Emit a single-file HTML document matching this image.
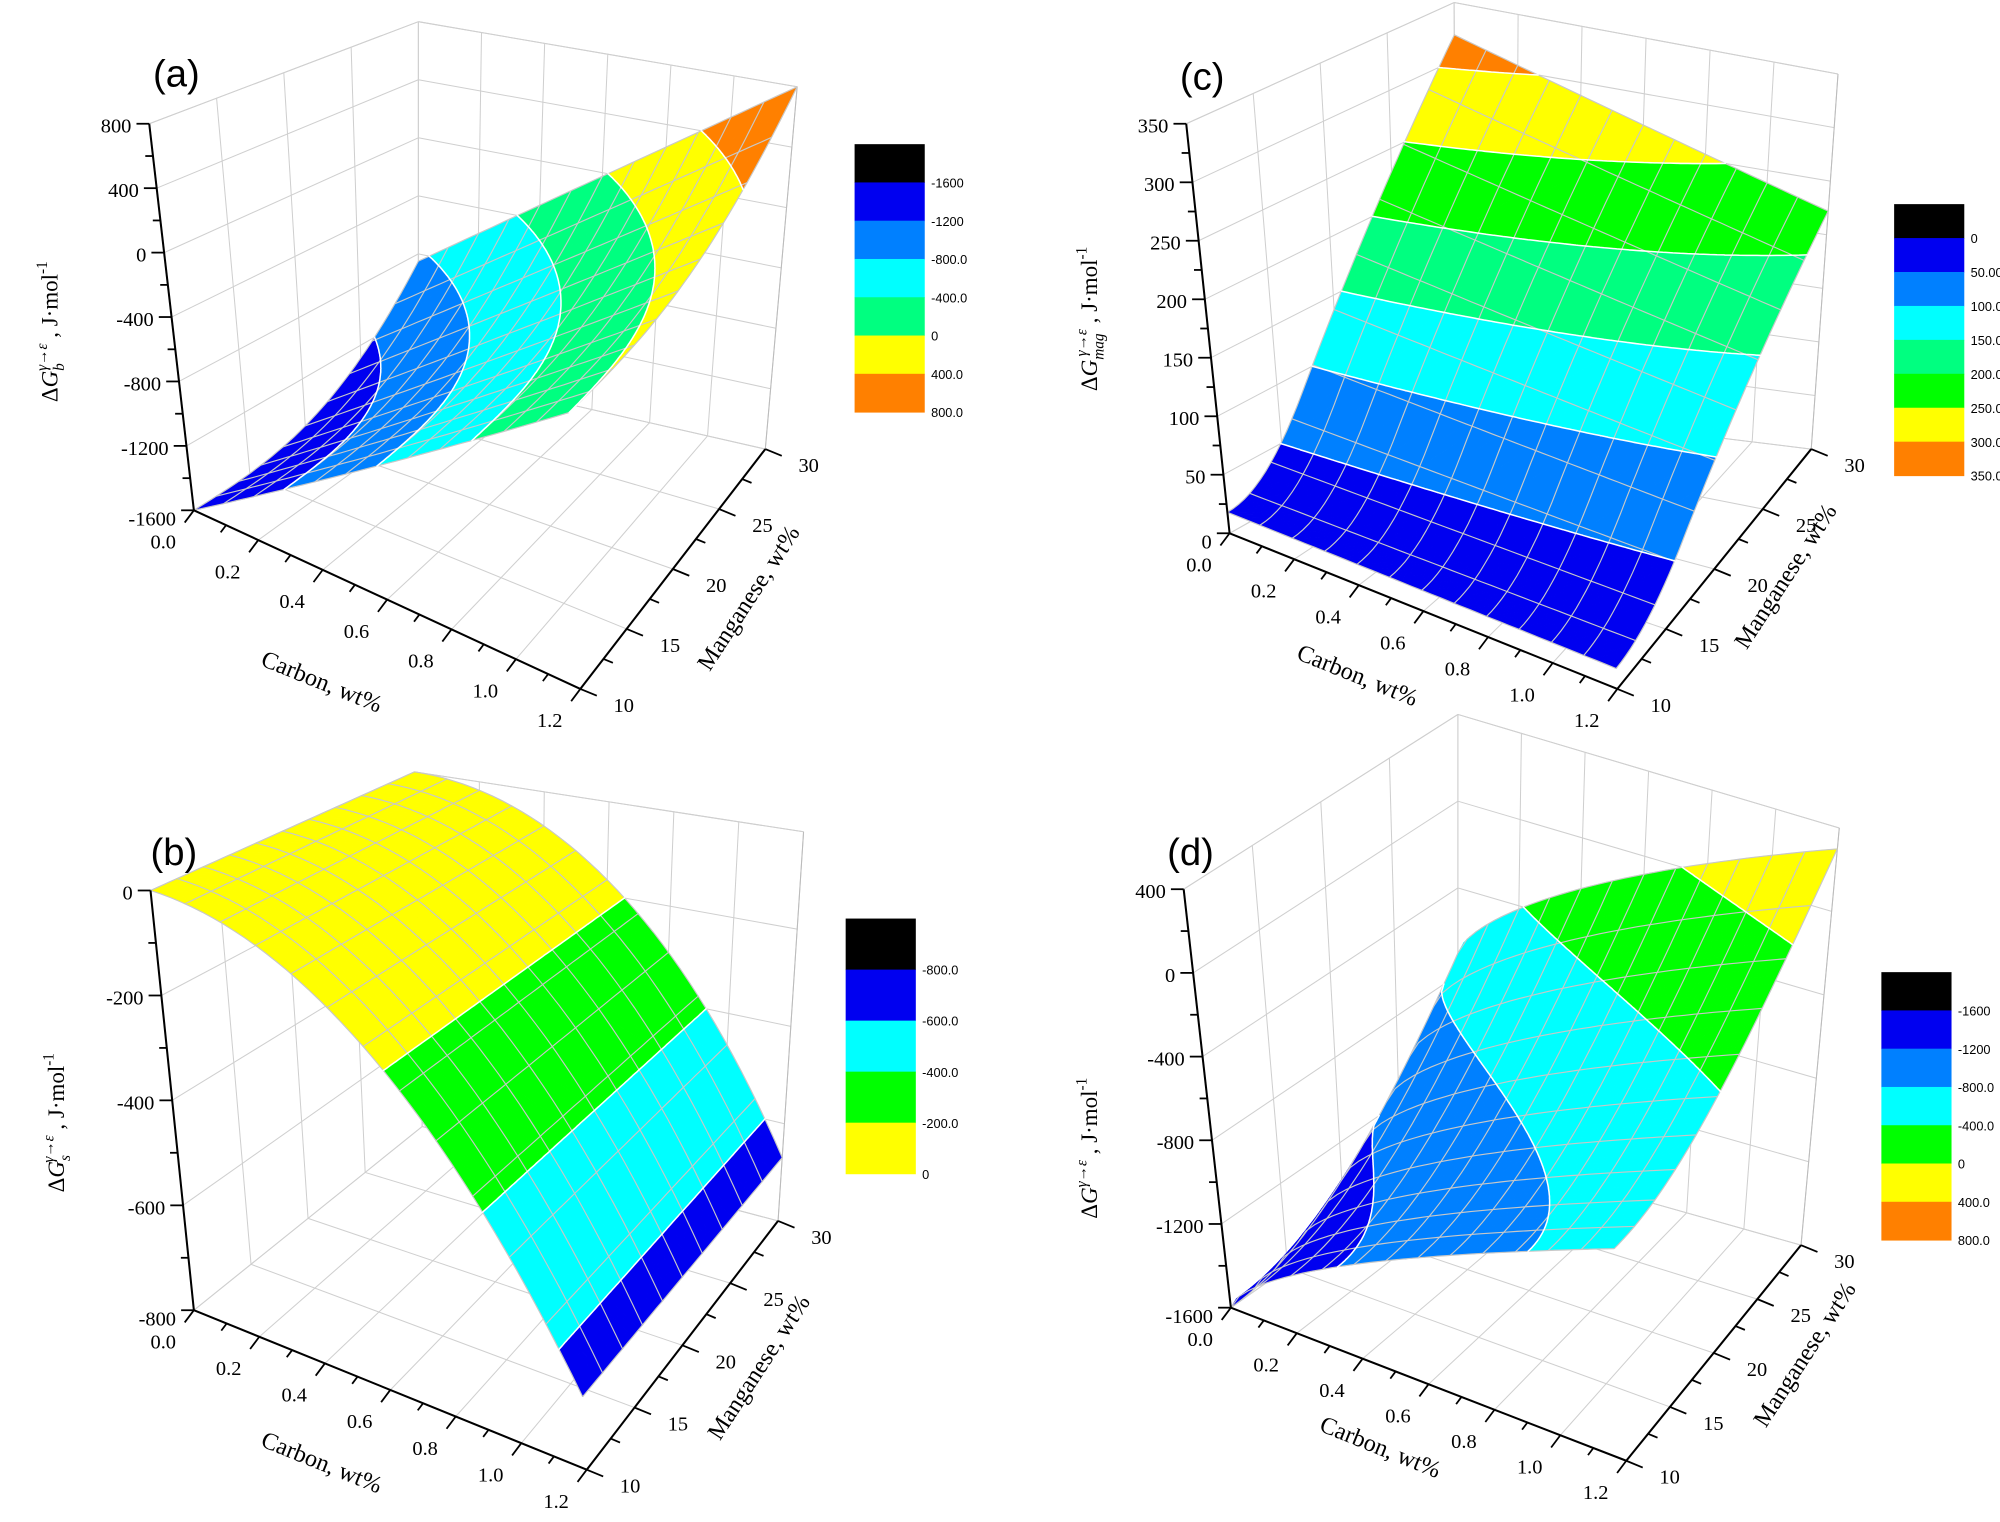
<!DOCTYPE html>
<html><head><meta charset="utf-8">
<style>
html,body{margin:0;padding:0;background:#fff;}
svg{display:block;}
text{font-family:"Liberation Serif",serif;}
.sans{font-family:"Liberation Sans",sans-serif;}
</style></head>
<body>
<svg id="s" xmlns="http://www.w3.org/2000/svg" width="2000" height="1522" viewBox="0 0 1568 1193" preserveAspectRatio="none">
<rect width="1568" height="1193" fill="#fff"/>
</svg>
<script>
const NS="http://www.w3.org/2000/svg";
const svg=document.getElementById('s');
function el(tag,attrs,parent,txt){const e=document.createElementNS(NS,tag);for(const k in attrs)e.setAttribute(k,attrs[k]);if(txt!==undefined)e.textContent=txt;(parent||svg).appendChild(e);return e;}
const BL='#0000f0',AZ='#0080ff',CY='#00ffff',SP='#00ff80',GR='#00ff00',YE='#ffff00',OR='#ff8000';
function sc(m){const a=0.35;return m>=a?(m-a/2)/(1-a/2):(m*m/(2*a))/(1-a/2);}
const panels=[
{ // a
 F:[[152,400],[455,540],[328,290],[600,352]],T:[[117,97],[442,215],[328,17],[625,68]],
 zr:[-1600,800],zt:[-1600,-1200,-800,-400,0,400,800],zminor:200,
 f:(c,m)=>-1600+750*m*m*m+c*(1600+50*m),
 th:[[-1200,BL],[-800,AZ],[-400,CY],[0,SP],[400,YE],[1e9,OR]],
 label:'(a)',lp:[120,68],sub:'b',
 cb:{x:670,y:113,w:55,h:30,cols:['#000',BL,AZ,CY,SP,YE,OR],labs:['-1600','-1200','-800.0','-400.0','0','400.0','800.0']},
 ct:[250,540],mt:[592,472],zt2:[45,260]
},
{ // b
 F:[[152,1027],[460,1152],[331,883],[610,957]],T:[[118,698],[440,800],[325,605],[630,652]],
 zr:[-800,0],zt:[-800,-600,-400,-200,0],zminor:100,
 f:(c,m)=>-670*c*c,
 th:[[-600,BL],[-400,CY],[-200,GR],[1e9,YE]],
 label:'(b)',lp:[118,678],sub:'s',
 cb:{x:663,y:720,w:55,h:40,cols:['#000',BL,CY,GR,YE],labs:['-800.0','-600.0','-400.0','-200.0','0']},
 ct:[250,1152],mt:[600,1075],zt2:[50,880]
},
{ // c
 F:[[964,418],[1268,540],[1142,318],[1420,352]],T:[[930,97],[1250,228],[1140,2],[1441,58]],
 zr:[0,350],zt:[0,50,100,150,200,250,300,350],zminor:25,
 f:(c,m)=>18+(304-100*c)*sc(m),
 th:[[50,BL],[100,AZ],[150,CY],[200,SP],[250,GR],[300,YE],[1e9,OR]],
 label:'(c)',lp:[925,70],sub:'mag',
 cb:{x:1485,y:160,w:55,h:26.6,cols:['#000',BL,AZ,CY,SP,GR,YE,OR],labs:['0','50.00','100.0','150.0','200.0','250.0','300.0','350.0']},
 ct:[1062,535],mt:[1405,455],zt2:[860,250]
},
{ // d
 F:[[965,1025],[1275,1145],[1143,900],[1412,976]],T:[[928,697],[1255,795],[1143,560],[1442,649]],
 zr:[-1600,400],zt:[-1600,-1200,-800,-400,0,400],zminor:200,
 f:(c,m)=>{const s=Math.pow(c,0.7);return -1600+950*s+900*m*m+50*s*m*m;},
 th:[[-1200,BL],[-800,AZ],[-400,CY],[0,GR],[400,YE],[1e9,OR]],
 label:'(d)',lp:[915,678],sub:'',
 cb:{x:1475,y:762,w:55,h:30,cols:['#000',BL,AZ,CY,GR,YE,OR],labs:['-1600','-1200','-800.0','-400.0','0','400.0','800.0']},
 ct:[1080,1140],mt:[1420,1065],zt2:[860,900]
}];
function bil(A,c,m,i){return A[0][i]*(1-c)*(1-m)+A[1][i]*c*(1-m)+A[2][i]*(1-c)*m+A[3][i]*c*m;}
function P(p,c,m,t){const fx=bil(p.F,c,m,0),fy=bil(p.F,c,m,1),tx=bil(p.T,c,m,0),ty=bil(p.T,c,m,1);return [fx+(tx-fx)*t,fy+(ty-fy)*t];}
function tn(p,v){return (v-p.zr[0])/(p.zr[1]-p.zr[0]);}
function line(a,b,st,w,g){el('line',{x1:a[0].toFixed(1),y1:a[1].toFixed(1),x2:b[0].toFixed(1),y2:b[1].toFixed(1),stroke:st,'stroke-width':w},g);}
function clip(poly,lv,keepAbove){const out=[];for(let i=0;i<poly.length;i++){const a=poly[i],b=poly[(i+1)%poly.length];const ia=keepAbove?a[2]>=lv:a[2]<lv,ib=keepAbove?b[2]>=lv:b[2]<lv;if(ia)out.push(a);if(ia!==ib){const t=(lv-a[2])/(b[2]-a[2]);out.push([a[0]+(b[0]-a[0])*t,a[1]+(b[1]-a[1])*t,lv]);}}return out;}
const ps=a=>a.map(v=>v[0].toFixed(1)+','+v[1].toFixed(1)).join(' ');
const GC='#cfcfcf';
panels.forEach(p=>{
 const g=el('g',{});
 const cts=[0,1/6,2/6,3/6,4/6,5/6,1], mts=[0,.25,.5,.75,1];
 p.zt.forEach(v=>{const t=tn(p,v);line(P(p,0,0,t),P(p,0,1,t),GC,0.8,g);line(P(p,0,1,t),P(p,1,1,t),GC,0.8,g);});
 line(P(p,0,0,1),P(p,0,1,1),GC,0.8,g);line(P(p,0,1,1),P(p,1,1,1),GC,0.8,g);
 cts.forEach(c=>{line(P(p,c,1,0),P(p,c,1,1),GC,0.8,g);line(P(p,c,0,0),P(p,c,1,0),GC,0.8,g);});
 mts.forEach(m=>{line(P(p,0,m,0),P(p,0,m,1),GC,0.8,g);line(P(p,0,m,0),P(p,1,m,0),GC,0.8,g);});
 line(P(p,1,1,0),P(p,1,1,1),'#bbb',0.8,g);
 const N=60,q=[];
 for(let i=0;i<N;i++)for(let j=0;j<N;j++){q.push([i/N,(i+1)/N,j/N,(j+1)/N,(2*j+1)/N/2-(2*i+1)/N/2]);}
 q.sort((a,b)=>b[4]-a[4]);
 const sg=el('g',{},g);
 const levels=[-1e12].concat(p.th.map(x=>x[0]));
 const V=(c,m)=>{const v=p.f(c,m);const a=P(p,c,m,tn(p,v));return [a[0],a[1],v];};
 const segs=[];
 q.forEach(([c0,c1,m0,m1])=>{
  const A=V(c0,m0),B=V(c1,m0),C=V(c1,m1),D=V(c0,m1);
  [[A,B,C],[A,C,D]].forEach(tri=>{
   for(let k=0;k<p.th.length;k++){
    const lo=levels[k],hi=p.th[k][0];
    let pl=clip(tri,lo,true);if(pl.length<3)continue;pl=clip(pl,hi,false);if(pl.length<3)continue;
    const cl=p.th[k][1];
    el('polygon',{points:ps(pl),fill:cl,stroke:cl,'stroke-width':0.45,'stroke-linejoin':'round'},sg);
   }
   for(let k=0;k<p.th.length-1;k++){const lv=p.th[k][0];const pts=[];
    for(let i=0;i<3;i++){const a=tri[i],b=tri[(i+1)%3];if((a[2]<lv)!==(b[2]<lv)){const t=(lv-a[2])/(b[2]-a[2]);pts.push([a[0]+(b[0]-a[0])*t,a[1]+(b[1]-a[1])*t]);}}
    if(pts.length===2)segs.push(pts);}
  });
 });
 const mesh=(pts)=>el('polyline',{points:pts.map(a=>a[0].toFixed(1)+','+a[1].toFixed(1)).join(' '),fill:'none',stroke:'#c8c8c8','stroke-width':0.9},g);
 for(let k=0;k<=12;k++){const c=k/12,pts=[];for(let s=0;s<=40;s++){const m=s/40;pts.push(P(p,c,m,tn(p,p.f(c,m))));}mesh(pts);}
 for(let k=0;k<=10;k++){const m=k/10,pts=[];for(let s=0;s<=40;s++){const c=s/40;pts.push(P(p,c,m,tn(p,p.f(c,m))));}mesh(pts);}
 let d='';segs.forEach(s=>{d+='M'+s[0][0].toFixed(1)+' '+s[0][1].toFixed(1)+'L'+s[1][0].toFixed(1)+' '+s[1][1].toFixed(1);});
 el('path',{d:d,stroke:'#fff','stroke-width':1.2,fill:'none','stroke-linecap':'round'},g);
 line(P(p,0,0,0),P(p,0,0,1),'#000',1.6,g);
 for(let v=p.zr[0];v<=p.zr[1]+1e-6;v+=p.zminor){const a=P(p,0,0,tn(p,v));const maj=p.zt.some(x=>Math.abs(x-v)<1e-6);line(a,[a[0]-(maj?10:6),a[1]],'#000',1.4,g);}
 p.zt.forEach(v=>{const a=P(p,0,0,tn(p,v));el('text',{x:(a[0]-14).toFixed(1),y:(a[1]+(v===p.zr[0]?12:7)).toFixed(1),'font-size':16,'text-anchor':'end'},g,String(v));});
 const A0=P(p,0,0,0),A1=P(p,1,0,0);line(A0,A1,'#000',1.6,g);
 for(let k=0;k<=12;k++){const a=P(p,k/12,0,0);const L=k%2==0?12:7;line(a,[a[0]-0.6*L,a[1]+0.8*L],'#000',1.4,g);
  if(k%2==0)el('text',{x:(a[0]-24).toFixed(1),y:(a[1]+30).toFixed(1),'font-size':16,'text-anchor':'middle'},g,(k/10).toFixed(1));}
 const B1=P(p,1,1,0);line(A1,B1,'#000',1.6,g);
 for(let k=0;k<=8;k++){const a=P(p,1,k/8,0);const L=k%2==0?14:8;line(a,[a[0]+0.92*L,a[1]+0.38*L],'#000',1.4,g);
  if(k%2==0)el('text',{x:(a[0]+34).toFixed(1),y:(a[1]+18).toFixed(1),'font-size':16,'text-anchor':'middle'},g,String(10+k*2.5));}
 el('text',{x:p.ct[0],y:p.ct[1],'font-size':19,'text-anchor':'middle',transform:`rotate(22 ${p.ct[0]} ${p.ct[1]})`},g,'Carbon, wt%');
 el('text',{x:p.mt[0],y:p.mt[1],'font-size':19,'text-anchor':'middle',transform:`rotate(-57 ${p.mt[0]} ${p.mt[1]})`},g,'Manganese, wt%');
 const zt=el('text',{x:p.zt2[0],y:p.zt2[1],'font-size':18,'text-anchor':'middle',transform:`rotate(-90 ${p.zt2[0]} ${p.zt2[1]})`},g);
 el('tspan',{},zt,'\u0394');el('tspan',{'font-style':'italic'},zt,'G');
 if(p.sub){el('tspan',{'font-size':12,'font-style':'italic',dy:5},zt,p.sub);el('tspan',{'font-size':12,'font-style':'italic',dy:-13,dx:-(p.sub.length*6)},zt,'\u03b3\u2192\u03b5');el('tspan',{dy:8},zt,' , J\u00b7mol');}
 else{el('tspan',{'font-size':12,'font-style':'italic',dy:-8},zt,'\u03b3\u2192\u03b5');el('tspan',{dy:8},zt,' , J\u00b7mol');}
 el('tspan',{'font-size':12,dy:-8},zt,'-1');
 el('text',{x:p.lp[0],y:p.lp[1],'font-size':30,class:'sans'},g,p.label);
 const cb=p.cb;cb.cols.forEach((c,i)=>{el('rect',{x:cb.x,y:(cb.y+i*cb.h).toFixed(1),width:cb.w,height:(cb.h+0.4).toFixed(1),fill:c},g);});
 cb.labs.forEach((l,i)=>{el('text',{x:cb.x+cb.w+5,y:(cb.y+(i+1)*cb.h+4).toFixed(1),'font-size':10,class:'sans'},g,l);});
});
</script>
</body></html>
